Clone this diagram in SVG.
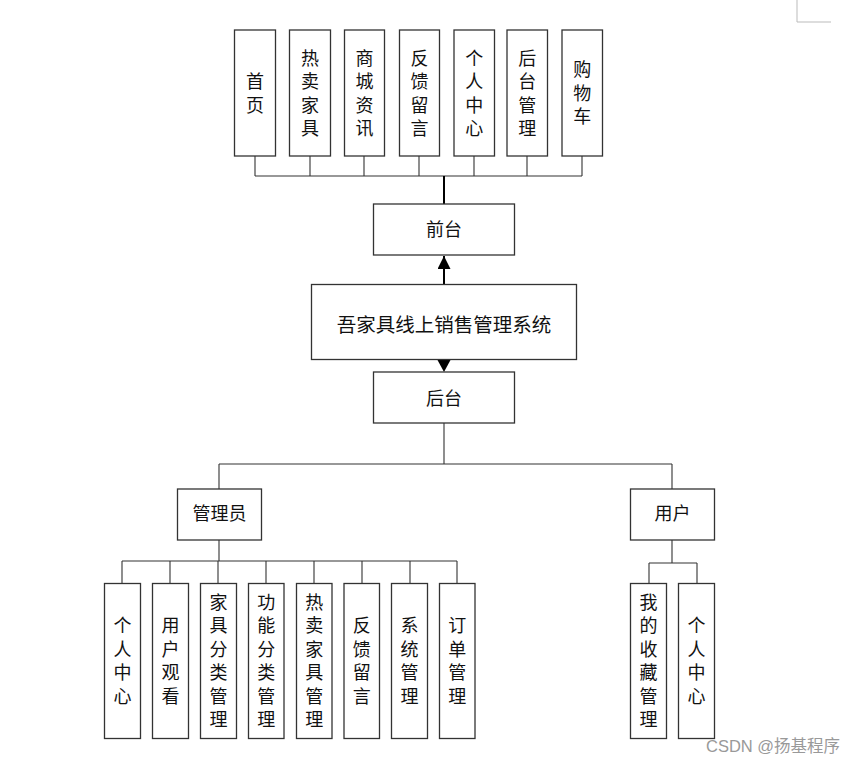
<svg xmlns="http://www.w3.org/2000/svg" width="857" height="766" viewBox="0 0 857 766">
<defs>
<style>
.box{fill:#fff;stroke:#333;stroke-width:1.3}
.t{font-family:"Noto Sans CJK SC","Liberation Serif",serif;font-size:18px;fill:#111;text-anchor:middle}
.ln{stroke:#333;stroke-width:1.1;fill:none}
.thick{stroke:#000;stroke-width:2;fill:none}
.wm{font-family:"Liberation Sans","Noto Sans CJK SC",sans-serif;font-size:16.5px;fill:#999}
</style>
<marker id="ah" viewBox="0 0 10 10" refX="10" refY="5" markerWidth="13" markerHeight="13" markerUnits="userSpaceOnUse" orient="auto">
<path d="M0,0 L10,5 L0,10 Z" fill="#000"/>
</marker>
</defs>
<rect width="857" height="766" fill="#fff"/>
<path d="M797,0 V22 H831" stroke="#bbb" stroke-width="1" fill="none"/>

<g id="connectors">
<path class="ln" d="M255,156 V176 M310,156 V176 M364,156 V176 M419,156 V176 M474,156 V176 M527,156 V176 M582,156 V176 M255,176 H582"/>
<path class="thick" d="M444,176 V204"/>
<path class="thick" d="M444,284 V256" marker-end="url(#ah)"/>
<path d="M437.5,360 L450.5,360 L444,372 Z" fill="#000"/>
<path class="ln" d="M444,423 V464 M219,464 H672 M219,464 V489 M672,464 V489"/>
<path class="ln" d="M219,540 V561 M122,561 H457 M122,561 V583 M170,561 V583 M218,561 V583 M266,561 V583 M314,561 V583 M362,561 V583 M410,561 V583 M457,561 V583"/>
<path class="ln" d="M672,540 V563 M649,563 H697 M649,563 V583 M697,563 V583"/>
</g>

<g id="n-shouye"><rect class="box" x="234.5" y="30" width="41" height="126"/><text class="t"><tspan x="255" y="88">首</tspan><tspan x="255" y="111.5">页</tspan></text></g>
<g id="n-rmjj"><rect class="box" x="289.5" y="30" width="41" height="126"/><text class="t"><tspan x="310" y="64.5">热</tspan><tspan x="310" y="88">卖</tspan><tspan x="310" y="111.5">家</tspan><tspan x="310" y="135">具</tspan></text></g>
<g id="n-scxx"><rect class="box" x="344.5" y="30" width="40" height="126"/><text class="t"><tspan x="364.5" y="64.5">商</tspan><tspan x="364.5" y="88">城</tspan><tspan x="364.5" y="111.5">资</tspan><tspan x="364.5" y="135">讯</tspan></text></g>
<g id="n-fkly"><rect class="box" x="399.5" y="30" width="40" height="126"/><text class="t"><tspan x="419.5" y="64.5">反</tspan><tspan x="419.5" y="88">馈</tspan><tspan x="419.5" y="111.5">留</tspan><tspan x="419.5" y="135">言</tspan></text></g>
<g id="n-grzx"><rect class="box" x="454" y="30" width="40.5" height="126"/><text class="t"><tspan x="474.3" y="64.5">个</tspan><tspan x="474.3" y="88">人</tspan><tspan x="474.3" y="111.5">中</tspan><tspan x="474.3" y="135">心</tspan></text></g>
<g id="n-htgl"><rect class="box" x="507" y="30" width="40.5" height="126"/><text class="t"><tspan x="527.3" y="64.5">后</tspan><tspan x="527.3" y="88">台</tspan><tspan x="527.3" y="111.5">管</tspan><tspan x="527.3" y="135">理</tspan></text></g>
<g id="n-gwc"><rect class="box" x="562" y="30" width="40.5" height="126"/><text class="t"><tspan x="582.3" y="76.3">购</tspan><tspan x="582.3" y="99.8">物</tspan><tspan x="582.3" y="123.3">车</tspan></text></g>

<g id="n-qiantai"><rect class="box" x="373.5" y="204" width="141" height="51"/><text class="t" x="444" y="236">前台</text></g>
<g id="n-system"><rect class="box" x="311.5" y="284.5" width="265" height="75"/><text class="t" x="444" y="332" style="font-size:19.5px">吾家具线上销售管理系统</text></g>
<g id="n-houtai"><rect class="box" x="373.5" y="372" width="141" height="51"/><text class="t" x="444" y="405">后台</text></g>

<g id="n-admin"><rect class="box" x="177.5" y="489" width="84" height="51"/><text class="t" x="219.5" y="520">管理员</text></g>
<g id="n-user"><rect class="box" x="630.5" y="489" width="84" height="51"/><text class="t" x="672.5" y="520">用户</text></g>

<g id="a-grzx"><rect class="box" x="104.5" y="583.5" width="36" height="155"/><text class="t"><tspan x="122.5" y="632">个</tspan><tspan x="122.5" y="655.5">人</tspan><tspan x="122.5" y="679">中</tspan><tspan x="122.5" y="702.5">心</tspan></text></g>
<g id="a-yhgk"><rect class="box" x="152.5" y="583.5" width="36" height="155"/><text class="t"><tspan x="170.5" y="632">用</tspan><tspan x="170.5" y="655.5">户</tspan><tspan x="170.5" y="679">观</tspan><tspan x="170.5" y="702.5">看</tspan></text></g>
<g id="a-jjfl"><rect class="box" x="200.5" y="583.5" width="36" height="155"/><text class="t"><tspan x="218.5" y="608.5">家</tspan><tspan x="218.5" y="632">具</tspan><tspan x="218.5" y="655.5">分</tspan><tspan x="218.5" y="679">类</tspan><tspan x="218.5" y="702.5">管</tspan><tspan x="218.5" y="726">理</tspan></text></g>
<g id="a-gnfl"><rect class="box" x="248.5" y="583.5" width="35.5" height="155"/><text class="t"><tspan x="266.2" y="608.5">功</tspan><tspan x="266.2" y="632">能</tspan><tspan x="266.2" y="655.5">分</tspan><tspan x="266.2" y="679">类</tspan><tspan x="266.2" y="702.5">管</tspan><tspan x="266.2" y="726">理</tspan></text></g>
<g id="a-rmjj"><rect class="box" x="296.5" y="583.5" width="35.5" height="155"/><text class="t"><tspan x="314.2" y="608.5">热</tspan><tspan x="314.2" y="632">卖</tspan><tspan x="314.2" y="655.5">家</tspan><tspan x="314.2" y="679">具</tspan><tspan x="314.2" y="702.5">管</tspan><tspan x="314.2" y="726">理</tspan></text></g>
<g id="a-fkly"><rect class="box" x="344" y="583.5" width="35.5" height="155"/><text class="t"><tspan x="361.8" y="632">反</tspan><tspan x="361.8" y="655.5">馈</tspan><tspan x="361.8" y="679">留</tspan><tspan x="361.8" y="702.5">言</tspan></text></g>
<g id="a-xtgl"><rect class="box" x="391.5" y="583.5" width="36" height="155"/><text class="t"><tspan x="409.5" y="632">系</tspan><tspan x="409.5" y="655.5">统</tspan><tspan x="409.5" y="679">管</tspan><tspan x="409.5" y="702.5">理</tspan></text></g>
<g id="a-ddgl"><rect class="box" x="439.5" y="583.5" width="35.5" height="155"/><text class="t"><tspan x="457.2" y="632">订</tspan><tspan x="457.2" y="655.5">单</tspan><tspan x="457.2" y="679">管</tspan><tspan x="457.2" y="702.5">理</tspan></text></g>

<g id="u-wdsc"><rect class="box" x="630.5" y="583.5" width="36" height="155"/><text class="t"><tspan x="648.5" y="608.5">我</tspan><tspan x="648.5" y="632">的</tspan><tspan x="648.5" y="655.5">收</tspan><tspan x="648.5" y="679">藏</tspan><tspan x="648.5" y="702.5">管</tspan><tspan x="648.5" y="726">理</tspan></text></g>
<g id="u-grzx"><rect class="box" x="678.5" y="583.5" width="36" height="155"/><text class="t"><tspan x="696.5" y="632">个</tspan><tspan x="696.5" y="655.5">人</tspan><tspan x="696.5" y="679">中</tspan><tspan x="696.5" y="702.5">心</tspan></text></g>

<text class="wm" x="706" y="752">CSDN @扬基程序</text>
</svg>
